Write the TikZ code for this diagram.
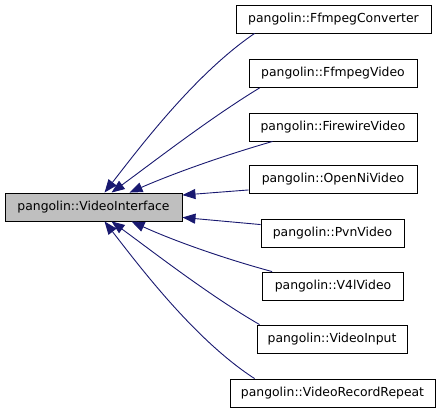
\documentclass[tikz,border=0pt]{standalone}
\usepackage{fontspec}
\setmainfont{DejaVu Sans}
\usetikzlibrary{arrows.meta}
\definecolor{edgeblue}{HTML}{191970}
\definecolor{maingray}{HTML}{BFBFBF}
\tikzset{
  cls/.style={draw=black, line width=0.9pt, fill=white, minimum height=28pt, inner sep=0pt, font=\fontsize{12.4}{14}\selectfont},
  mainbox/.style={cls, fill=maingray},
  inh/.style={draw=edgeblue, line width=0.9pt, -{Triangle[length=13pt,width=10pt]}}
}
\begin{document}
\begin{tikzpicture}[x=1pt,y=-1pt]
\useasboundingbox (0,0) rectangle (443,413);
\node[mainbox, minimum width=177pt] (main) at (93.5,207) {pangolin::VideoInterface};
\node[cls, minimum width=195pt] (c1) at (333.5,19) {pangolin::FfmpegConverter};
\node[cls, minimum width=168pt] (c2) at (333,73.5) {pangolin::FfmpegVideo};
\node[cls, minimum width=168pt] (c3) at (333,127) {pangolin::FirewireVideo};
\node[cls, minimum width=168pt] (c4) at (333,179.5) {pangolin::OpenNiVideo};
\node[cls, minimum width=143pt] (c5) at (332.5,233) {pangolin::PvnVideo};
\node[cls, minimum width=141pt] (c6) at (333,286) {pangolin::V4lVideo};
\node[cls, minimum width=150pt] (c7) at (332,339) {pangolin::VideoInput};
\node[cls, minimum width=205pt] (c8) at (332.5,393) {pangolin::VideoRecordRepeat};
% connection points
\coordinate (s1) at ([xshift=19pt]c1.south west);
\coordinate (e1) at ([xshift=100pt]main.north west);
\coordinate (s2) at ([xshift=11pt]c2.south west);
\coordinate (e2) at ([xshift=107pt]main.north west);
\coordinate (s3) at ([xshift=24pt]c3.south west);
\coordinate (e3) at ([xshift=125pt]main.north west);
\coordinate (s4) at ([yshift=4pt]c4.south west);
\coordinate (e4) at ([yshift=-2.5pt]main.north east);
\coordinate (s5) at ([yshift=-6pt]c5.north west);
\coordinate (e5) at ([yshift=4pt]main.south east);
\coordinate (s6) at ([xshift=10pt]c6.north west);
\coordinate (e6) at ([xshift=127pt]main.south west);
\coordinate (s7) at ([xshift=3pt]c7.north west);
\coordinate (e7) at ([xshift=107pt]main.south west);
\coordinate (s8) at ([xshift=25pt]c8.north west);
\coordinate (e8) at ([xshift=100pt]main.south west);
\draw[inh] (s1) .. controls (195,74) and (140,147) .. (e1);
\draw[inh] (s2) .. controls (210,118) and (152,163) .. (e2);
\draw[inh] (s3) .. controls (222,156) and (172,174) .. (e3);
\draw[inh] (s4) -- (e4);
\draw[inh] (s5) -- (e5);
\draw[inh] (s6) .. controls (222,258) and (172,240) .. (e6);
\draw[inh] (s7) .. controls (210,296) and (152,251) .. (e7);
\draw[inh] (s8) .. controls (195,340) and (140,267) .. (e8);
\end{tikzpicture}
\end{document}
